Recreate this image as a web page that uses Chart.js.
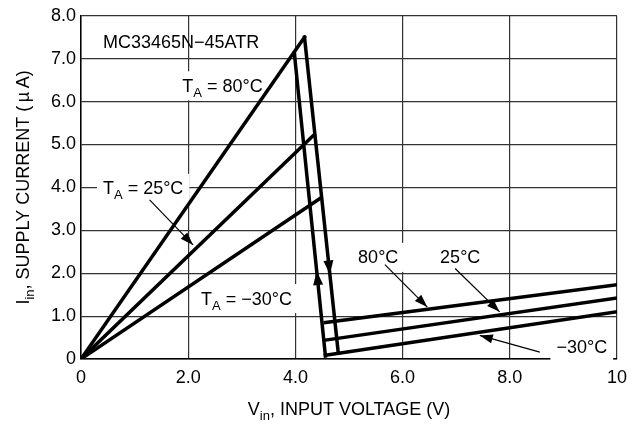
<!DOCTYPE html>
<html lang="en">
<head>
    <meta charset="UTF-8">
    <title>Supply Current vs Input Voltage</title>
    <script src="https://cdnjs.cloudflare.com/ajax/libs/Chart.js/4.4.0/chart.umd.min.js"></script>
    <style>
        body { margin: 0; background: #fff; }
        #wrap { width: 635px; height: 430px; }
    </style>
</head>
<body>
    <div id="wrap"><canvas id="currentChart" width="635" height="430"></canvas></div>

    <script>
        // values (V, uA)
        const tempNames = ['80°C', '25°C', '−30°C'];
        const riseEndV = [4.17, 4.35, 4.48];   // rising branch ends on the drop line
        const riseEndI = [7.5, 5.23, 3.76];
        const lowV = [4.56, 10];
        const low80I = [0.85, 1.73];
        const low25I = [0.44, 1.42];
        const lowM30I = [0.09, 1.10];
        const dropV = [4.17, 4.80];            // detect line (going down)
        const dropI = [7.5, 0.14];
        const jumpV = [3.98, 4.56];            // release line (going up)
        const jumpI = [7.13, 0.07];
        const voltTicks = [0, 2, 4, 6, 8, 10];
        const currentTicks = [0, 1, 2, 3, 4, 5, 6, 7, 8];

        const FONT = "'Liberation Sans', Arial, sans-serif";

        function seg(xs, ys) {
            return xs.map((x, i) => ({ x: x, y: ys[i] }));
        }

        const lowSets = [low80I, low25I, lowM30I];
        const datasets = [];
        tempNames.forEach((name, i) => {
            datasets.push({ label: 'rise ' + name, data: seg([0, riseEndV[i]], [0, riseEndI[i]]) });
            datasets.push({ label: 'low ' + name, data: seg(lowV, lowSets[i]) });
        });
        datasets.push({ label: 'drop', data: seg(dropV, dropI) });
        datasets.push({ label: 'jump', data: seg(jumpV, jumpI) });
        datasets.forEach(d => {
            d.showLine = true;
            d.borderColor = '#000';
            d.borderWidth = 3.5;
            d.pointRadius = 0;
            d.borderCapStyle = 'square';
            d.borderJoinStyle = 'miter';
        });

        // text with subscripts: parts = [[text, isSub], ...]
        function drawParts(ctx, parts, x, y, size, align) {
            const subSize = Math.round(size * 0.72);
            let w = 0;
            parts.forEach(p => {
                ctx.font = (p[1] ? subSize : size) + 'px ' + FONT;
                w += ctx.measureText(p[0]).width;
            });
            let cx = align === 'center' ? x - w / 2 : x;
            ctx.textBaseline = 'alphabetic';
            ctx.textAlign = 'left';
            parts.forEach(p => {
                ctx.font = (p[1] ? subSize : size) + 'px ' + FONT;
                ctx.fillText(p[0], cx, p[1] ? y + 5 : y);
                cx += ctx.measureText(p[0]).width;
            });
            return w;
        }

        function arrowHead(ctx, x1, y1, x2, y2, len, half) {
            const a = Math.atan2(y2 - y1, x2 - x1);
            ctx.beginPath();
            ctx.moveTo(x2, y2);
            ctx.lineTo(x2 - len * Math.cos(a) + half * Math.sin(a), y2 - len * Math.sin(a) - half * Math.cos(a));
            ctx.lineTo(x2 - len * Math.cos(a) - half * Math.sin(a), y2 - len * Math.sin(a) + half * Math.cos(a));
            ctx.closePath();
            ctx.fill();
        }

        const labels = [
            { parts: [['MC33465N−45ATR']], v: 0.41, i: 7.39, box: false },
            { parts: [['T'], ['A', true], [' = 80°C']], v: 1.89, i: 6.38, box: true },
            { parts: [['T'], ['A', true], [' = 25°C']], v: 0.41, i: 3.99, box: true },
            { parts: [['T'], ['A', true], [' = −30°C']], v: 2.24, i: 1.42, box: true },
            { parts: [[tempNames[0]]], v: 5.17, i: 2.38, box: true },
            { parts: [[tempNames[1]]], v: 6.70, i: 2.40, box: true },
            { parts: [[tempNames[2]]], v: 8.87, i: 0.29, box: true }
        ];

        // leader arrows: from label towards the curve [v1, i1, v2, i2]
        const leaders = [
            [1.28, 3.71, 2.09, 2.66],
            [5.67, 2.20, 6.46, 1.21],
            [6.98, 2.11, 7.81, 1.10],
            [8.56, 0.16, 7.44, 0.55]
        ];

        const annotations = {
            id: 'annotations',
            beforeDatasetsDraw(chart) {
                const ctx = chart.ctx;
                const xs = chart.scales.x, ys = chart.scales.y;
                ctx.save();
                labels.forEach(l => {
                    const px = xs.getPixelForValue(l.v);
                    const py = ys.getPixelForValue(l.i);
                    ctx.fillStyle = '#000';
                    if (l.box) {
                        let w = 0;
                        l.parts.forEach(p => {
                            ctx.font = (p[1] ? 13 : 18) + 'px ' + FONT;
                            w += ctx.measureText(p[0]).width;
                        });
                        ctx.fillStyle = '#fff';
                        ctx.fillRect(px - 6, py - 14, w + 12, 29);
                        ctx.fillStyle = '#000';
                    }
                    drawParts(ctx, l.parts, px, py + 6.5, 18, 'left');
                });
                ctx.restore();
            },
            afterDatasetsDraw(chart) {
                const ctx = chart.ctx;
                const xs = chart.scales.x, ys = chart.scales.y;
                ctx.save();
                ctx.fillStyle = '#000';
                ctx.strokeStyle = '#000';
                ctx.lineWidth = 1.2;
                leaders.forEach(a => {
                    const x1 = xs.getPixelForValue(a[0]), y1 = ys.getPixelForValue(a[1]);
                    const x2 = xs.getPixelForValue(a[2]), y2 = ys.getPixelForValue(a[3]);
                    ctx.beginPath();
                    ctx.moveTo(x1, y1);
                    ctx.lineTo(x2, y2);
                    ctx.stroke();
                    arrowHead(ctx, x1, y1, x2, y2, 13, 4.5);
                });
                // direction arrows on the hysteresis lines
                function onLine(vv, ii, cur) {
                    const t = (cur - ii[0]) / (ii[1] - ii[0]);
                    return vv[0] + t * (vv[1] - vv[0]);
                }
                const upTip = 2.05, upBase = 1.72;
                arrowHead(ctx,
                    xs.getPixelForValue(onLine(jumpV, jumpI, upBase)), ys.getPixelForValue(upBase),
                    xs.getPixelForValue(onLine(jumpV, jumpI, upTip)), ys.getPixelForValue(upTip), 14, 5);
                const dnTip = 1.97, dnBase = 2.3;
                arrowHead(ctx,
                    xs.getPixelForValue(onLine(dropV, dropI, dnBase)), ys.getPixelForValue(dnBase),
                    xs.getPixelForValue(onLine(dropV, dropI, dnTip)), ys.getPixelForValue(dnTip), 14, 5);
                ctx.restore();
            },
            afterDraw(chart) {
                const ctx = chart.ctx;
                const area = chart.chartArea;
                ctx.save();
                ctx.fillStyle = '#000';
                drawParts(ctx, [['V'], ['in', true], [', INPUT VOLTAGE (V)']],
                    (area.left + area.right) / 2, 415, 18, 'center');
                ctx.translate(29, (area.top + area.bottom) / 2);
                ctx.rotate(-Math.PI / 2);
                drawParts(ctx, [['I'], ['in', true], [', SUPPLY CURRENT (\u2009µ\u2009A)']],
                    0, 0, 18, 'center');
                ctx.restore();
            }
        };

        const chart = new Chart(document.getElementById('currentChart'), {
            type: 'scatter',
            data: { datasets: datasets },
            options: {
                responsive: false,
                animation: false,
                layout: { padding: { left: 0, top: 10, right: 14, bottom: 0 } },
                plugins: {
                    legend: { display: false },
                    tooltip: { enabled: false }
                },
                scales: {
                    x: {
                        type: 'linear',
                        min: voltTicks[0],
                        max: voltTicks[voltTicks.length - 1],
                        afterBuildTicks: s => { s.ticks = voltTicks.map(v => ({ value: v })); },
                        afterFit: s => { s.height = 71; },
                        ticks: {
                            color: '#000',
                            font: { family: FONT, size: 18 },
                            padding: 8,
                            maxRotation: 0,
                            callback: v => (v === 0 || v === 10) ? String(v) : v.toFixed(1)
                        },
                        grid: { color: '#333', lineWidth: 1.2, drawTicks: false },
                        border: { color: '#000', width: 1.5 }
                    },
                    y: {
                        type: 'linear',
                        min: currentTicks[0],
                        max: currentTicks[currentTicks.length - 1],
                        afterBuildTicks: s => { s.ticks = currentTicks.map(v => ({ value: v })); },
                        afterFit: s => { s.width = 81; },
                        ticks: {
                            color: '#000',
                            font: { family: FONT, size: 18 },
                            padding: 5,
                            callback: v => v === 0 ? '0' : v.toFixed(1)
                        },
                        grid: { color: '#333', lineWidth: 1.2, drawTicks: false },
                        border: { color: '#000', width: 1.5 }
                    }
                }
            },
            plugins: [annotations]
        });
    </script>
</body>
</html>
